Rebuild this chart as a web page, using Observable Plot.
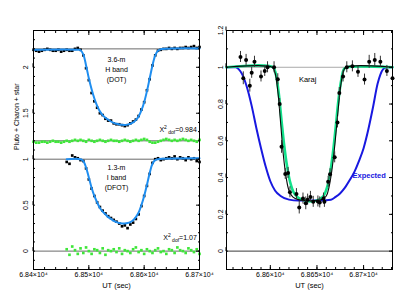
<!DOCTYPE html>
<html><head><meta charset="utf-8">
<script src="https://cdn.jsdelivr.net/npm/d3@7"></script>
<script src="https://cdn.jsdelivr.net/npm/@observablehq/plot@0.6"></script>
<style>
body{margin:0;background:#fff;}
#wrap{position:relative;width:400px;height:300px;overflow:hidden;font-family:"Liberation Sans",Arial,sans-serif;}
#wrap svg{position:absolute;top:0;overflow:visible;}
</style></head><body><div id="wrap"></div>
<script>
// ---------- LEFT PANEL DATA ----------
const hTime = [68400,68405,68410,68415,68420,68425,68430,68435,68440,68445,68450,68455,68460,68465,68470,68475,68480,68485,68490,68495,68500,68505,68510,68515,68520,68525,68530,68535,68540,68545,68550,68555,68560,68565,68570,68575,68580,68585,68590,68595,68600,68605,68610,68615,68620,68625,68630,68635,68640,68645,68650,68655,68660,68665,68670,68675,68680,68685,68690,68695,68700];
const hFlux = [2.19,2.18,2.17,2.18,2.19,2.20,2.19,2.18,2.18,2.19,2.17,2.18,2.19,2.18,2.18,2.20,2.21,2.19,2.13,1.99,1.86,1.72,1.63,1.56,1.50,1.48,1.44,1.42,1.42,1.39,1.38,1.38,1.37,1.36,1.37,1.39,1.41,1.43,1.47,1.54,1.62,1.75,1.87,2.02,2.13,2.18,2.19,2.20,2.20,2.21,2.20,2.21,2.20,2.21,2.21,2.22,2.21,2.22,2.23,2.21,2.22];
const hResid = [1.19,1.18,1.18,1.19,1.19,1.18,1.19,1.20,1.19,1.19,1.18,1.19,1.20,1.19,1.20,1.21,1.20,1.21,1.20,1.19,1.21,1.20,1.19,1.20,1.21,1.20,1.19,1.20,1.21,1.20,1.20,1.19,1.20,1.21,1.20,1.19,1.20,1.21,1.20,1.21,1.22,1.21,1.19,1.18,1.18,1.19,1.20,1.21,1.22,1.21,1.20,1.21,1.20,1.21,1.22,1.21,1.20,1.21,1.20,1.19,1.21];
const hFitTime = [68400,68480,68485,68490,68495,68500,68505,68510,68515,68520,68525,68530,68535,68540,68545,68550,68555,68560,68565,68570,68575,68580,68585,68590,68595,68600,68605,68610,68615,68620,68625,68630,68700];
const hFitFlux = [2.19,2.19,2.185,2.14,2.02,1.88,1.76,1.66,1.58,1.52,1.48,1.45,1.43,1.41,1.395,1.385,1.378,1.374,1.373,1.376,1.385,1.40,1.425,1.465,1.53,1.62,1.74,1.88,2.02,2.13,2.18,2.195,2.205];

const iTime = [68460,68465,68470,68475,68480,68485,68490,68495,68500,68505,68510,68515,68520,68525,68530,68535,68540,68545,68550,68555,68560,68565,68570,68575,68580,68585,68590,68595,68600,68605,68610,68615,68620,68625,68630,68635,68640,68645,68650,68655,68660,68665,68670,68675,68680,68685,68690,68695,68700];
const iFlux = [0.97,0.95,1.04,1.02,1.01,0.99,0.98,0.90,0.78,0.68,0.60,0.53,0.48,0.44,0.41,0.38,0.36,0.34,0.32,0.30,0.27,0.28,0.25,0.29,0.31,0.35,0.40,0.49,0.60,0.71,0.84,0.96,1.00,1.01,0.99,1.00,1.01,1.02,1.01,1.03,1.00,1.02,1.01,0.99,1.02,1.00,1.01,0.98,0.97];
const iResid = [0.02,-0.04,0.05,0.01,-0.03,0.03,-0.02,0.04,0.00,-0.03,0.02,0.01,-0.02,0.03,-0.04,0.01,0.00,0.02,-0.01,0.03,-0.03,0.01,0.00,-0.02,0.02,0.04,-0.01,0.01,-0.03,0.02,0.00,-0.02,0.01,0.03,-0.01,0.00,-0.03,0.02,0.01,-0.02,0.04,0.01,0.00,-0.02,0.03,0.01,-0.01,0.02,-0.03];
const iFitTime = [68460,68485,68490,68495,68500,68505,68510,68515,68520,68525,68530,68535,68540,68545,68550,68555,68560,68565,68570,68575,68580,68585,68590,68595,68600,68605,68610,68615,68620,68625,68700];
const iFitFlux = [1.0,1.0,0.98,0.91,0.80,0.69,0.60,0.53,0.47,0.43,0.40,0.37,0.35,0.33,0.315,0.305,0.30,0.30,0.305,0.315,0.335,0.37,0.42,0.50,0.60,0.72,0.85,0.95,0.99,1.0,1.01];

const leftRefLines = [2.2, 1.2, 1, 0];
const leftXTicks = [68400, 68500, 68600, 68700];
const leftXLabels = ["6.84×10⁴", "6.85×10⁴", "6.86×10⁴", "6.87×10⁴"];
const leftYTicks = [0, 0.5, 1, 1.5, 2];
const leftNotes = [
  {t: 68550, v: 1.98, text: "3.6-m\nH band\n(DOT)"},
  {t: 68550, v: 0.81, text: "1.3-m\nI band\n(DFOT)"}
];
const chiNotes = [{t: 68696, v: 1.29, val: "0.984"}, {t: 68696, v: 0.12, val: "1.07"}];

// ---------- RIGHT PANEL DATA ----------
const kTime = [68568,68571,68574,68578,68580,68583,68590,68594,68597,68604,68608,68610,68612,68616,68619,68621,68628,68631,68635,68638,68640,68643,68646,68651,68653,68657,68658,68662,68664,68669,68672,68674,68678,68682,68688,68694,68701,68706,68712,68718,68725,68731];
const kFlux = [1.056,0.94,1.04,0.90,0.97,1.03,0.95,0.98,1.0,1.0,0.935,0.80,0.567,0.42,0.425,0.32,0.31,0.237,0.286,0.26,0.28,0.295,0.268,0.27,0.265,0.286,0.268,0.377,0.418,0.51,0.70,0.86,0.95,1.0,1.005,0.975,0.933,1.03,1.04,1.03,0.98,0.94];
const kErr = [0.03,0.035,0.03,0.035,0.03,0.03,0.03,0.03,0.03,0.03,0.03,0.03,0.035,0.03,0.03,0.03,0.03,0.035,0.03,0.035,0.03,0.03,0.03,0.03,0.03,0.03,0.03,0.03,0.03,0.03,0.03,0.03,0.03,0.03,0.03,0.03,0.03,0.035,0.035,0.03,0.03,0.03];
const kFitTime = [68553,68602,68605,68608,68611,68614,68617,68620,68624,68630,68655,68660,68663,68666,68669,68672,68675,68678,68681,68731];
const kFitFlux = [1.0,1.0,0.97,0.87,0.70,0.52,0.40,0.33,0.295,0.28,0.28,0.30,0.35,0.44,0.57,0.73,0.88,0.97,1.0,1.0];
const gFitTime = [68553,68603,68606,68609,68612,68615,68618,68621,68625,68630,68637,68645,68652,68657,68661,68664,68667,68670,68673,68676,68679,68682,68731];
const gFitFlux = [1.0,1.0,0.96,0.86,0.71,0.57,0.46,0.38,0.32,0.29,0.275,0.27,0.28,0.30,0.35,0.42,0.53,0.67,0.82,0.93,0.99,1.0,1.0];
const expTime = [68553,68563,68566,68570,68575,68580,68585,68590,68595,68600,68605,68611,68620,68630,68650,68665,68670,68675,68680,68685,68690,68695,68700,68705,68710,68715,68718,68721,68725,68731];
const expFlux = [1.0,1.0,0.99,0.96,0.89,0.79,0.67,0.56,0.46,0.38,0.33,0.30,0.28,0.275,0.275,0.28,0.295,0.315,0.345,0.385,0.43,0.49,0.56,0.66,0.78,0.91,0.96,0.99,1.0,1.0];

const rightXTicks = [68600, 68650, 68700];
const rightXLabels = ["6.86×10⁴", "6.865×10⁴", "6.87×10⁴"];
const rightYTicks = [0, 0.2, 0.4, 0.6, 0.8, 1, 1.2];

// ---------- helpers ----------
const zip = (ts, vs) => ts.map((t, i) => ({t, v: vs[i]}));
const font = "'Liberation Sans', Arial, sans-serif";

function frameAxes(xMajor, xLabels, xMinor, yMajor, yMinor, yPad) {
  const lab = new Map(xMajor.map((d, i) => [d, xLabels[i]]));
  const none = () => "";
  return [
    Plot.axisX({ticks: xMajor, tickSize: -4, tickPadding: 7, tickFormat: d => lab.get(d), label: null, fontSize: 7}),
    Plot.axisX({ticks: xMinor, tickSize: -2, tickFormat: none, label: null}),
    Plot.axisX({anchor: "top", ticks: xMajor, tickSize: -4, tickFormat: none, label: null}),
    Plot.axisX({anchor: "top", ticks: xMinor, tickSize: -2, tickFormat: none, label: null}),
    Plot.axisY({ticks: yMajor, tickSize: -4, tickPadding: yPad, rotate: -90, textAnchor: "middle", tickFormat: d => String(d), label: null, fontSize: 7}),
    Plot.axisY({ticks: yMinor, tickSize: -2, tickFormat: none, label: null}),
    Plot.axisY({anchor: "right", ticks: yMajor, tickSize: -4, tickFormat: none, label: null}),
    Plot.axisY({anchor: "right", ticks: yMinor, tickSize: -2, tickFormat: none, label: null}),
    Plot.frame({stroke: "black", strokeWidth: 1})
  ];
}

// ---------- LEFT PLOT ----------
const hData = zip(hTime, hFlux), hRes = zip(hTime, hResid), hFit = zip(hFitTime, hFitFlux);
const iData = zip(iTime, iFlux), iRes = zip(iTime, iResid), iFit = zip(iFitTime, iFitFlux);

const left = Plot.plot({
  width: 200, height: 300,
  marginLeft: 33, marginRight: 1, marginTop: 30, marginBottom: 31,
  style: {fontFamily: font, fontSize: "7px", background: "transparent", overflow: "visible"},
  x: {domain: [68400, 68700]},
  y: {domain: [-0.2, 2.4]},
  marks: [
    Plot.ruleY(leftRefLines, {stroke: "#444", strokeWidth: 0.8}),
    Plot.dot(hRes, {x: "t", y: "v", symbol: "square", r: 1.5, fill: "#3fe63a"}),
    Plot.dot(iRes, {x: "t", y: "v", symbol: "square", r: 1.5, fill: "#3fe63a"}),
    Plot.dot(hData, {x: "t", y: "v", symbol: "square", r: 1.5, fill: "black"}),
    Plot.dot(iData, {x: "t", y: "v", symbol: "square", r: 1.5, fill: "black"}),
    Plot.line(hFit, {x: "t", y: "v", stroke: "#1f8ef0", strokeWidth: 2, curve: "catmull-rom"}),
    Plot.line(iFit, {x: "t", y: "v", stroke: "#1f8ef0", strokeWidth: 2, curve: "catmull-rom"}),
    Plot.text(leftNotes, {x: "t", y: "v", text: "text", fontSize: 7, lineHeight: 1.4, fill: "black"}),
    Plot.text(["Pluto + Charon + star"], {frameAnchor: "left", dx: -17, rotate: -90, fontSize: 7}),
    Plot.text(["UT (sec)"], {frameAnchor: "bottom", dy: 18, fontSize: 7.5}),
    ...frameAxes(leftXTicks, leftXLabels, d3.range(68420, 68700, 20), leftYTicks, d3.range(-0.1, 2.35, 0.1), 12)
  ]
});

// ---------- RIGHT PLOT ----------
const kData = kTime.map((t, i) => ({t, v: kFlux[i], e: kErr[i]}));
const right = Plot.plot({
  width: 200, height: 300,
  marginLeft: 26, marginRight: 8, marginTop: 30, marginBottom: 31,
  style: {fontFamily: font, fontSize: "7px", background: "transparent", overflow: "visible"},
  x: {domain: [68553, 68731]},
  y: {domain: [-0.1, 1.2]},
  marks: [
    Plot.ruleY([1], {stroke: "#aaa", strokeWidth: 1}),
    Plot.ruleY([0], {stroke: "#222", strokeWidth: 0.9}),
    Plot.line(zip(expTime, expFlux), {x: "t", y: "v", stroke: "#1818e0", strokeWidth: 2, curve: "monotone-x"}),
    Plot.line(zip(gFitTime, gFitFlux), {x: "t", y: "v", stroke: "#12e28c", strokeWidth: 2.6, curve: "catmull-rom"}),
    Plot.line(zip(kFitTime, kFitFlux), {x: "t", y: "v", stroke: "#0a0a0a", strokeWidth: 1.1, curve: "catmull-rom"}),
    Plot.ruleX(kData, {x: "t", y1: d => d.v - d.e, y2: d => d.v + d.e, stroke: "#333", strokeWidth: 1}),
    Plot.dot(kData, {x: "t", y: "v", r: 2, fill: "black"}),
    Plot.text(["Karaj"], {x: [68640], y: [0.935], fontSize: 7.5, fill: "black"}),
    Plot.text(["Expected"], {x: [68706], y: [0.41], fontSize: 7.5, fontWeight: "bold", fill: "#1818e0"}),
    Plot.text(["UT (sec)"], {frameAnchor: "bottom", dy: 18, fontSize: 7.5}),
    ...frameAxes(rightXTicks, rightXLabels, d3.range(68560, 68731, 10), rightYTicks, d3.range(-0.1, 1.15, 0.1), 10)
  ]
});

const wrap = document.getElementById("wrap");
left.style.left = "0px";
right.style.left = "200px";
wrap.appendChild(left);
wrap.appendChild(right);

// chi-square annotations with super/subscripts
const sx = left.scale("x"), sy = left.scale("y");
chiNotes.forEach(n => {
  const txt = d3.select(left).append("text")
    .attr("x", sx.apply(n.t)).attr("y", sy.apply(n.v))
    .attr("text-anchor", "end").attr("font-size", 7).attr("fill", "black")
    .attr("font-family", font);
  txt.append("tspan").text("X");
  txt.append("tspan").attr("font-size", 5).attr("dy", -3).text("2");
  txt.append("tspan").attr("font-size", 5).attr("dy", 5).text(" dof");
  txt.append("tspan").attr("dy", -2).text("=" + n.val);
});
</script>
</body></html>
